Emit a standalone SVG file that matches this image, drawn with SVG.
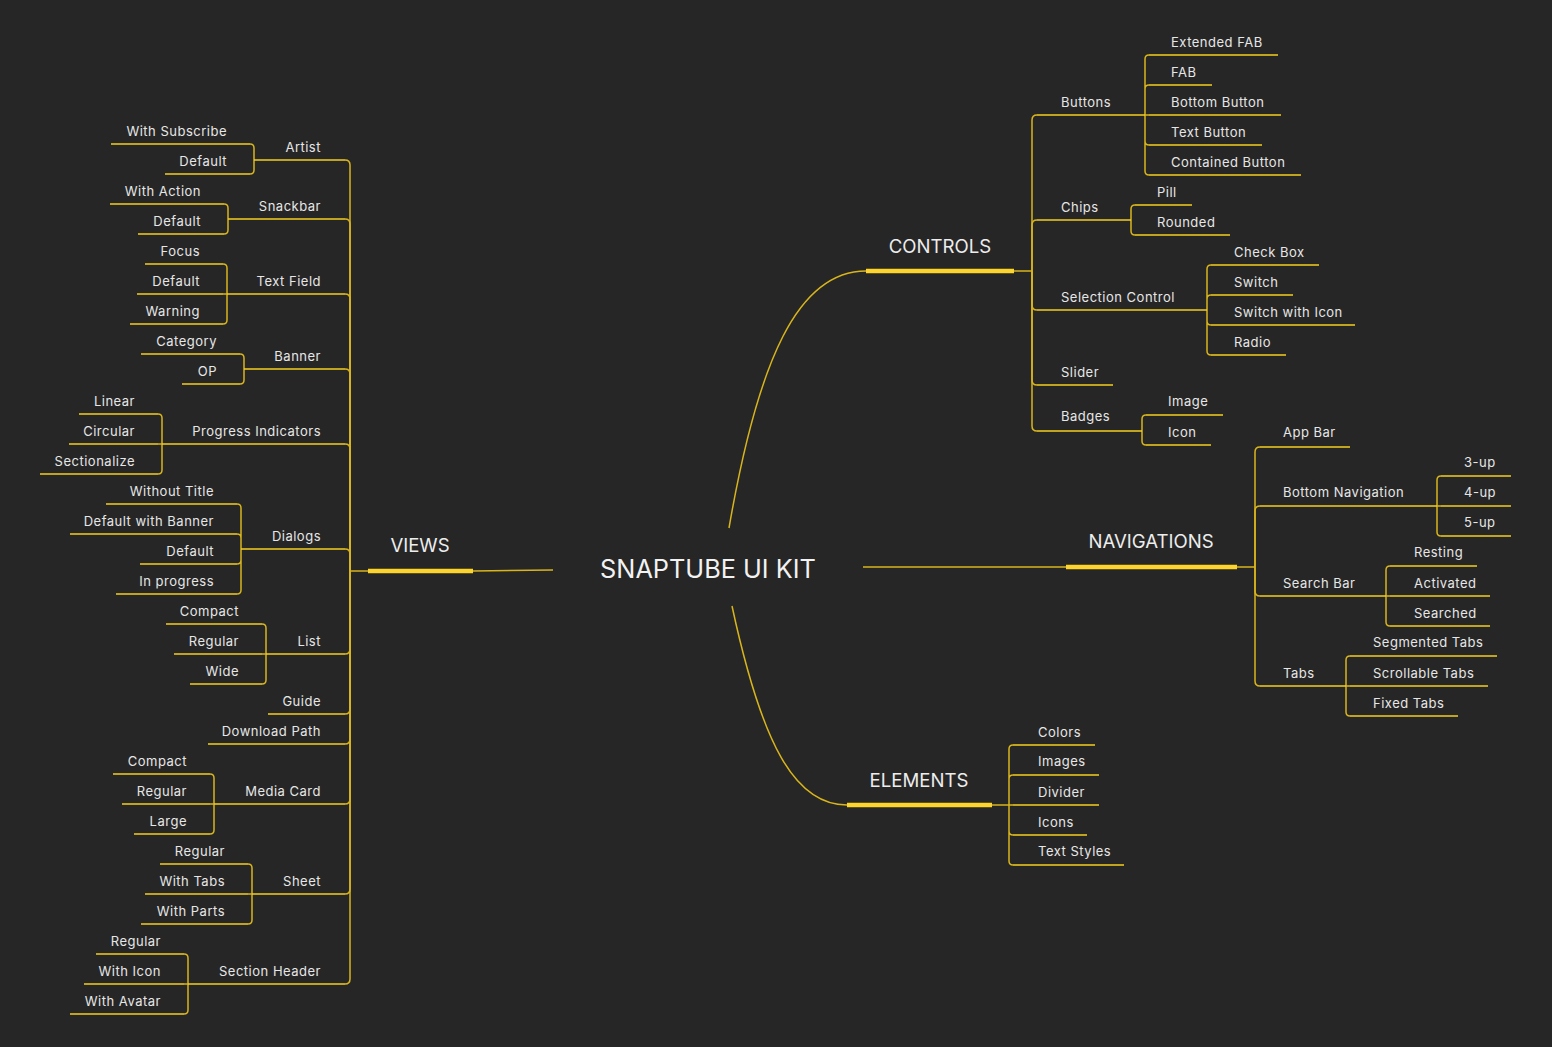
<svg xmlns="http://www.w3.org/2000/svg" width="1552" height="1047" viewBox="0 0 1552 1047">
<style>
.t{font-family:Inter,"Noto Sans","Liberation Sans",sans-serif;font-size:13px;letter-spacing:0.5px;fill:#E6E6E6}
.e{text-anchor:end}
.h{font-family:Inter,"Noto Sans","Liberation Sans",sans-serif;font-size:18.6px;fill:#EDEDED;text-anchor:middle}
.title{font-family:Inter,"Noto Sans","Liberation Sans",sans-serif;font-size:25.3px;fill:#F2F2F2;text-anchor:middle}
.u{fill:none;stroke:#F5CF1E;stroke-width:1.5}
.c{fill:none;stroke:#D9B51C;stroke-width:1.5}
.bar{fill:none;stroke:#FCD42B;stroke-width:4.5}
</style>
<rect width="1552" height="1047" fill="#262626"/>

<g id="connectors">
  <!-- center to main topics -->
  <path class="c" d="M729,528 C758,360 798,271 866,271"/>
  <path class="c" d="M732,606 C762,745 795,805 847,805"/>
  <path class="c" d="M863,567 H1066"/>
  <path class="c" d="M553,570 L473,571"/>
  <!-- VIEWS trunk -->
  <path class="c" d="M368,571 H350"/>
  <path class="c" d="M350,571 V165 Q350,160 345,160"/>
  <path class="c" d="M350,571 V224 Q350,219 345,219"/>
  <path class="c" d="M350,571 V299 Q350,294 345,294"/>
  <path class="c" d="M350,571 V374 Q350,369 345,369"/>
  <path class="c" d="M350,571 V449 Q350,444 345,444"/>
  <path class="c" d="M350,571 V554 Q350,549 345,549"/>
  <path class="c" d="M350,571 V649 Q350,654 345,654"/>
  <path class="c" d="M350,571 V709 Q350,714 345,714"/>
  <path class="c" d="M350,571 V739 Q350,744 345,744"/>
  <path class="c" d="M350,571 V799 Q350,804 345,804"/>
  <path class="c" d="M350,571 V889 Q350,894 345,894"/>
  <path class="c" d="M350,571 V979 Q350,984 345,984"/>
  <!-- VIEWS sub brackets -->
  <path class="c" d="M254,160 V148 Q254,144 250,144 M254,160 V170 Q254,174 250,174"/>
  <path class="c" d="M228,219 V208 Q228,204 224,204 M228,219 V230 Q228,234 224,234"/>
  <path class="c" d="M227,294 V268 Q227,264 223,264 M227,294 H223 M227,294 V320 Q227,324 223,324"/>
  <path class="c" d="M244,369 V358 Q244,354 240,354 M244,369 V380 Q244,384 240,384"/>
  <path class="c" d="M162,444 V418 Q162,414 158,414 M162,444 H158 M162,444 V470 Q162,474 158,474"/>
  <path class="c" d="M241,549 V508 Q241,504 237,504 M241,549 V538 Q241,534 237,534 M241,549 V560 Q241,564 237,564 M241,549 V590 Q241,594 237,594"/>
  <path class="c" d="M266,654 V628 Q266,624 262,624 M266,654 H262 M266,654 V680 Q266,684 262,684"/>
  <path class="c" d="M214,804 V778 Q214,774 210,774 M214,804 H210 M214,804 V830 Q214,834 210,834"/>
  <path class="c" d="M252,894 V868 Q252,864 248,864 M252,894 H248 M252,894 V920 Q252,924 248,924"/>
  <path class="c" d="M188,984 V958 Q188,954 184,954 M188,984 H184 M188,984 V1010 Q188,1014 184,1014"/>
  <!-- CONTROLS trunk -->
  <path class="c" d="M1014,271 H1032"/>
  <path class="c" d="M1032,271 V120 Q1032,115 1037,115"/>
  <path class="c" d="M1032,271 V225 Q1032,220 1037,220"/>
  <path class="c" d="M1032,271 V305 Q1032,310 1037,310"/>
  <path class="c" d="M1032,271 V380 Q1032,385 1037,385"/>
  <path class="c" d="M1032,271 V426 Q1032,431 1037,431"/>
  <path class="c" d="M1145,115 V59 Q1145,55 1149,55 M1145,115 V89 Q1145,85 1149,85 M1145,115 H1149 M1145,115 V141 Q1145,145 1149,145 M1145,115 V171 Q1145,175 1149,175"/>
  <path class="c" d="M1131,220 V209 Q1131,205 1135,205 M1131,220 V231 Q1131,235 1135,235"/>
  <path class="c" d="M1207,310 V269 Q1207,265 1211,265 M1207,310 V299 Q1207,295 1211,295 M1207,310 V321 Q1207,325 1211,325 M1207,310 V351 Q1207,355 1211,355"/>
  <path class="c" d="M1142,431 V419 Q1142,415 1146,415 M1142,431 V441 Q1142,445 1146,445"/>
  <!-- NAVIGATIONS trunk -->
  <path class="c" d="M1237,567 H1255"/>
  <path class="c" d="M1255,567 V452 Q1255,447 1260,447"/>
  <path class="c" d="M1255,567 V511 Q1255,506 1260,506"/>
  <path class="c" d="M1255,567 V591 Q1255,596 1260,596"/>
  <path class="c" d="M1255,567 V681 Q1255,686 1260,686"/>
  <path class="c" d="M1437,506 V480 Q1437,476 1441,476 M1437,506 H1441 M1437,506 V532 Q1437,536 1441,536"/>
  <path class="c" d="M1386,596 V570 Q1386,566 1390,566 M1386,596 H1390 M1386,596 V622 Q1386,626 1390,626"/>
  <path class="c" d="M1346,686 V660 Q1346,656 1350,656 M1346,686 H1350 M1346,686 V712 Q1346,716 1350,716"/>
  <!-- ELEMENTS -->
  <path class="c" d="M992,805 H1009"/>
  <path class="c" d="M1009,805 V749 Q1009,745 1013,745 M1009,805 V779 Q1009,775 1013,775 M1009,805 H1013 M1009,805 V831 Q1009,835 1013,835 M1009,805 V861 Q1009,865 1013,865"/>
</g>

<g id="root"><text class="title" x="708" y="578">SNAPTUBE UI KIT</text></g>

<g id="views"><text class="h" x="420" y="552">VIEWS</text><path class="bar" d="M368,571 H473"/></g>
<g id="controls"><text class="h" x="940" y="253">CONTROLS</text><path class="bar" d="M866,271 H1014"/></g>
<g id="navigations"><text class="h" x="1151" y="548">NAVIGATIONS</text><path class="bar" d="M1066,567 H1237"/></g>
<g id="elements"><text class="h" x="919" y="787">ELEMENTS</text><path class="bar" d="M847,805 H992"/></g>

<!-- VIEWS branches -->
<g id="artist"><text class="t e" x="321" y="152">Artist</text><path class="u" d="M254,160 H345"/></g>
<g id="artist-subscribe"><text class="t e" x="227" y="136">With Subscribe</text><path class="u" d="M111,144 H250"/></g>
<g id="artist-default"><text class="t e" x="227" y="166">Default</text><path class="u" d="M165,174 H250"/></g>

<g id="snackbar"><text class="t e" x="321" y="211">Snackbar</text><path class="u" d="M228,219 H345"/></g>
<g id="snackbar-action"><text class="t e" x="201" y="196">With Action</text><path class="u" d="M110,204 H224"/></g>
<g id="snackbar-default"><text class="t e" x="201" y="226">Default</text><path class="u" d="M138,234 H224"/></g>

<g id="textfield"><text class="t e" x="321" y="286">Text Field</text><path class="u" d="M227,294 H345"/></g>
<g id="textfield-focus"><text class="t e" x="200" y="256">Focus</text><path class="u" d="M145,264 H223"/></g>
<g id="textfield-default"><text class="t e" x="200" y="286">Default</text><path class="u" d="M137,294 H223"/></g>
<g id="textfield-warning"><text class="t e" x="200" y="316">Warning</text><path class="u" d="M130,324 H223"/></g>

<g id="banner"><text class="t e" x="321" y="361">Banner</text><path class="u" d="M244,369 H345"/></g>
<g id="banner-category"><text class="t e" x="217" y="346">Category</text><path class="u" d="M141,354 H240"/></g>
<g id="banner-op"><text class="t e" x="217" y="376">OP</text><path class="u" d="M182,384 H240"/></g>

<g id="progress"><text class="t e" x="321" y="436">Progress Indicators</text><path class="u" d="M162,444 H345"/></g>
<g id="progress-linear"><text class="t e" x="135" y="406">Linear</text><path class="u" d="M79,414 H158"/></g>
<g id="progress-circular"><text class="t e" x="135" y="436">Circular</text><path class="u" d="M69,444 H158"/></g>
<g id="progress-sectionalize"><text class="t e" x="135" y="466">Sectionalize</text><path class="u" d="M40,474 H158"/></g>

<g id="dialogs"><text class="t e" x="321" y="541">Dialogs</text><path class="u" d="M241,549 H345"/></g>
<g id="dialogs-notitle"><text class="t e" x="214" y="496">Without Title</text><path class="u" d="M106,504 H237"/></g>
<g id="dialogs-banner"><text class="t e" x="214" y="526">Default with Banner</text><path class="u" d="M70,534 H237"/></g>
<g id="dialogs-default"><text class="t e" x="214" y="556">Default</text><path class="u" d="M140,564 H237"/></g>
<g id="dialogs-progress"><text class="t e" x="214" y="586">In progress</text><path class="u" d="M116,594 H237"/></g>

<g id="list"><text class="t e" x="321" y="646">List</text><path class="u" d="M266,654 H345"/></g>
<g id="list-compact"><text class="t e" x="239" y="616">Compact</text><path class="u" d="M166,624 H262"/></g>
<g id="list-regular"><text class="t e" x="239" y="646">Regular</text><path class="u" d="M174,654 H262"/></g>
<g id="list-wide"><text class="t e" x="239" y="676">Wide</text><path class="u" d="M190,684 H262"/></g>

<g id="guide"><text class="t e" x="321" y="706">Guide</text><path class="u" d="M268,714 H345"/></g>
<g id="download"><text class="t e" x="321" y="736">Download Path</text><path class="u" d="M208,744 H345"/></g>

<g id="mediacard"><text class="t e" x="321" y="796">Media Card</text><path class="u" d="M214,804 H345"/></g>
<g id="mediacard-compact"><text class="t e" x="187" y="766">Compact</text><path class="u" d="M113,774 H210"/></g>
<g id="mediacard-regular"><text class="t e" x="187" y="796">Regular</text><path class="u" d="M122,804 H210"/></g>
<g id="mediacard-large"><text class="t e" x="187" y="826">Large</text><path class="u" d="M134,834 H210"/></g>

<g id="sheet"><text class="t e" x="321" y="886">Sheet</text><path class="u" d="M252,894 H345"/></g>
<g id="sheet-regular"><text class="t e" x="225" y="856">Regular</text><path class="u" d="M160,864 H248"/></g>
<g id="sheet-tabs"><text class="t e" x="225" y="886">With Tabs</text><path class="u" d="M145,894 H248"/></g>
<g id="sheet-parts"><text class="t e" x="225" y="916">With Parts</text><path class="u" d="M141,924 H248"/></g>

<g id="sectionheader"><text class="t e" x="321" y="976">Section Header</text><path class="u" d="M188,984 H345"/></g>
<g id="sectionheader-regular"><text class="t e" x="161" y="946">Regular</text><path class="u" d="M96,954 H184"/></g>
<g id="sectionheader-icon"><text class="t e" x="161" y="976">With Icon</text><path class="u" d="M84,984 H184"/></g>
<g id="sectionheader-avatar"><text class="t e" x="161" y="1006">With Avatar</text><path class="u" d="M70,1014 H184"/></g>

<!-- CONTROLS -->
<g id="buttons"><text class="t" x="1061" y="107">Buttons</text><path class="u" d="M1037,115 H1145"/></g>
<g id="btn-extfab"><text class="t" x="1171" y="47">Extended FAB</text><path class="u" d="M1149,55 H1278"/></g>
<g id="btn-fab"><text class="t" x="1171" y="77">FAB</text><path class="u" d="M1149,85 H1212"/></g>
<g id="btn-bottom"><text class="t" x="1171" y="107">Bottom Button</text><path class="u" d="M1149,115 H1281"/></g>
<g id="btn-text"><text class="t" x="1171" y="137">Text Button</text><path class="u" d="M1149,145 H1262"/></g>
<g id="btn-contained"><text class="t" x="1171" y="167">Contained Button</text><path class="u" d="M1149,175 H1301"/></g>

<g id="chips"><text class="t" x="1061" y="212">Chips</text><path class="u" d="M1037,220 H1131"/></g>
<g id="chips-pill"><text class="t" x="1157" y="197">Pill</text><path class="u" d="M1135,205 H1192"/></g>
<g id="chips-rounded"><text class="t" x="1157" y="227">Rounded</text><path class="u" d="M1135,235 H1230"/></g>

<g id="selection"><text class="t" x="1061" y="302">Selection Control</text><path class="u" d="M1037,310 H1207"/></g>
<g id="sel-checkbox"><text class="t" x="1234" y="257">Check Box</text><path class="u" d="M1211,265 H1319"/></g>
<g id="sel-switch"><text class="t" x="1234" y="287">Switch</text><path class="u" d="M1211,295 H1293"/></g>
<g id="sel-switchicon"><text class="t" x="1234" y="317">Switch with Icon</text><path class="u" d="M1211,325 H1355"/></g>
<g id="sel-radio"><text class="t" x="1234" y="347">Radio</text><path class="u" d="M1211,355 H1286"/></g>

<g id="slider"><text class="t" x="1061" y="377">Slider</text><path class="u" d="M1037,385 H1113"/></g>

<g id="badges"><text class="t" x="1061" y="421">Badges</text><path class="u" d="M1037,431 H1142"/></g>
<g id="badges-image"><text class="t" x="1168" y="406">Image</text><path class="u" d="M1146,415 H1223"/></g>
<g id="badges-icon"><text class="t" x="1168" y="437">Icon</text><path class="u" d="M1146,445 H1211"/></g>

<!-- NAVIGATIONS -->
<g id="appbar"><text class="t" x="1283" y="437">App Bar</text><path class="u" d="M1260,447 H1350"/></g>
<g id="bottomnav"><text class="t" x="1283" y="497">Bottom Navigation</text><path class="u" d="M1260,506 H1437"/></g>
<g id="bn-3up"><text class="t" x="1464" y="467">3-up</text><path class="u" d="M1441,476 H1511"/></g>
<g id="bn-4up"><text class="t" x="1464" y="497">4-up</text><path class="u" d="M1441,506 H1511"/></g>
<g id="bn-5up"><text class="t" x="1464" y="527">5-up</text><path class="u" d="M1441,536 H1511"/></g>

<g id="searchbar"><text class="t" x="1283" y="588">Search Bar</text><path class="u" d="M1260,596 H1386"/></g>
<g id="sb-resting"><text class="t" x="1414" y="557">Resting</text><path class="u" d="M1390,566 H1477"/></g>
<g id="sb-activated"><text class="t" x="1414" y="588">Activated</text><path class="u" d="M1390,596 H1490"/></g>
<g id="sb-searched"><text class="t" x="1414" y="618">Searched</text><path class="u" d="M1390,626 H1490"/></g>

<g id="tabs"><text class="t" x="1283" y="678">Tabs</text><path class="u" d="M1260,686 H1346"/></g>
<g id="tabs-segmented"><text class="t" x="1373" y="647">Segmented Tabs</text><path class="u" d="M1350,656 H1497"/></g>
<g id="tabs-scrollable"><text class="t" x="1373" y="678">Scrollable Tabs</text><path class="u" d="M1350,686 H1488"/></g>
<g id="tabs-fixed"><text class="t" x="1373" y="708">Fixed Tabs</text><path class="u" d="M1350,716 H1458"/></g>

<!-- ELEMENTS -->
<g id="el-colors"><text class="t" x="1038" y="737">Colors</text><path class="u" d="M1013,745 H1095"/></g>
<g id="el-images"><text class="t" x="1038" y="766">Images</text><path class="u" d="M1013,775 H1099"/></g>
<g id="el-divider"><text class="t" x="1038" y="797">Divider</text><path class="u" d="M1013,805 H1099"/></g>
<g id="el-icons"><text class="t" x="1038" y="827">Icons</text><path class="u" d="M1013,835 H1087"/></g>
<g id="el-textstyles"><text class="t" x="1038" y="856">Text Styles</text><path class="u" d="M1013,865 H1124"/></g>
</svg>
